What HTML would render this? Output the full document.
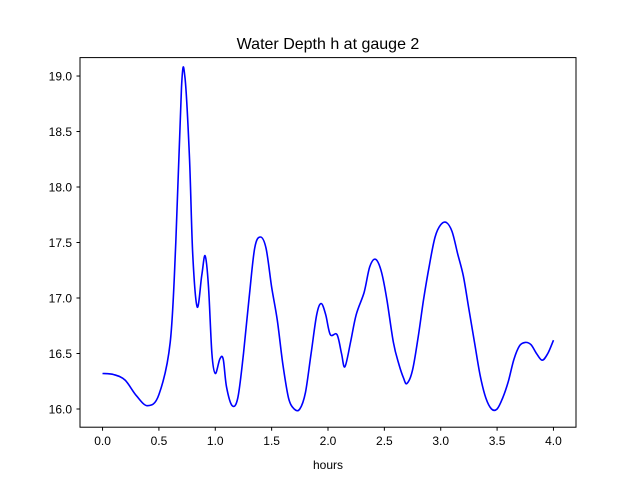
<!DOCTYPE html>
<html><head><meta charset="utf-8"><style>body{margin:0;background:#fff}svg{display:block;font-family:"Liberation Sans","DejaVu Sans",sans-serif}</style></head>
<body>
<svg id="chart" width="640" height="480" viewBox="0 0 640 480">
<rect width="640" height="480" fill="#fff"/>
<text x="328" y="49" text-anchor="middle" font-size="16">Water Depth h at gauge 2</text>
<g id="xt"></g>
<g id="yt"></g>
<path id="line" fill="none" stroke="#0000ff" stroke-width="1.6"/>
<rect x="80" y="57.6" width="496" height="369.6" fill="none" stroke="#000" stroke-width="1"/>
<text x="328" y="469" text-anchor="middle" font-size="12">hours</text>
</svg>
<script>
const hours=[0,0.1,0.2,0.3,0.4,0.5,0.6,0.65,0.7,0.73,0.77,0.8,0.84,0.88,0.91,0.94,0.97,1.0,1.04,1.07,1.1,1.15,1.2,1.25,1.3,1.35,1.4,1.45,1.5,1.55,1.6,1.65,1.7,1.75,1.8,1.85,1.9,1.94,1.98,2.02,2.08,2.12,2.15,2.2,2.25,2.32,2.37,2.42,2.47,2.52,2.58,2.63,2.67,2.7,2.75,2.8,2.85,2.9,2.95,3.0,3.05,3.1,3.15,3.2,3.25,3.3,3.35,3.4,3.45,3.5,3.55,3.6,3.65,3.7,3.75,3.8,3.85,3.9,3.95,4.0];
const depth=[16.32,16.31,16.26,16.12,16.03,16.13,16.6,17.5,18.9,19.0,18.3,17.4,16.92,17.2,17.38,17.1,16.5,16.32,16.45,16.45,16.2,16.03,16.1,16.5,17.0,17.45,17.55,17.45,17.1,16.8,16.4,16.1,16.0,16.0,16.15,16.5,16.85,16.95,16.85,16.67,16.67,16.5,16.38,16.6,16.85,17.05,17.28,17.35,17.25,17.0,16.6,16.4,16.28,16.23,16.35,16.65,17.0,17.3,17.55,17.66,17.68,17.6,17.4,17.2,16.9,16.6,16.3,16.1,16.0,16.0,16.1,16.25,16.45,16.57,16.6,16.58,16.5,16.44,16.5,16.62];
const xTicks=[0,0.5,1,1.5,2,2.5,3,3.5,4];
const yTicks=[16,16.5,17,17.5,18,18.5,19];
const X=v=>80+(v+0.2)/4.4*496;
const Y=v=>427.2-(v-15.836)/(19.166-15.836)*369.6;
const ns="http://www.w3.org/2000/svg";
const xt=document.getElementById('xt'),yt=document.getElementById('yt');
xTicks.forEach(t=>{
 const l=document.createElementNS(ns,'line');
 
 
 l.setAttribute('x1',X(t));l.setAttribute('x2',X(t));l.setAttribute('y1',427.2);l.setAttribute('y2',430.7);l.setAttribute('stroke','#000');xt.appendChild(l);
 const s=document.createElementNS(ns,'text');
 
 
 s.setAttribute('x',X(t));s.setAttribute('y',445);s.setAttribute('text-anchor','middle');s.setAttribute('font-size','12');s.textContent=t.toFixed(1);xt.appendChild(s);
});
yTicks.forEach(t=>{
 const l=document.createElementNS(ns,'line');
 
 
 l.setAttribute('x1',76.5);l.setAttribute('x2',80);l.setAttribute('y1',Y(t));l.setAttribute('y2',Y(t));l.setAttribute('stroke','#000');yt.appendChild(l);
 const s=document.createElementNS(ns,'text');
 
 
 s.setAttribute('x',72);s.setAttribute('y',Y(t)+4.5);s.setAttribute('text-anchor','end');s.setAttribute('font-size','12');s.textContent=t.toFixed(1);yt.appendChild(s);
});
const P=hours.map((h,i)=>[X(h),Y(depth[i])]);
let d='M'+P[0][0].toFixed(1)+','+P[0][1].toFixed(1);
for(let i=0;i<P.length-1;i++){
 const p0=P[Math.max(i-1,0)],p1=P[i],p2=P[i+1],p3=P[Math.min(i+2,P.length-1)];
 const c1=[p1[0]+(p2[0]-p0[0])/6,p1[1]+(p2[1]-p0[1])/6];
 const c2=[p2[0]-(p3[0]-p1[0])/6,p2[1]-(p3[1]-p1[1])/6];
 d+='C'+c1.map(v=>v.toFixed(1)).join(',')+' '+c2.map(v=>v.toFixed(1)).join(',')+' '+p2.map(v=>v.toFixed(1)).join(',');
}
document.getElementById('line').setAttribute('d',d);
</script>
</body></html>
